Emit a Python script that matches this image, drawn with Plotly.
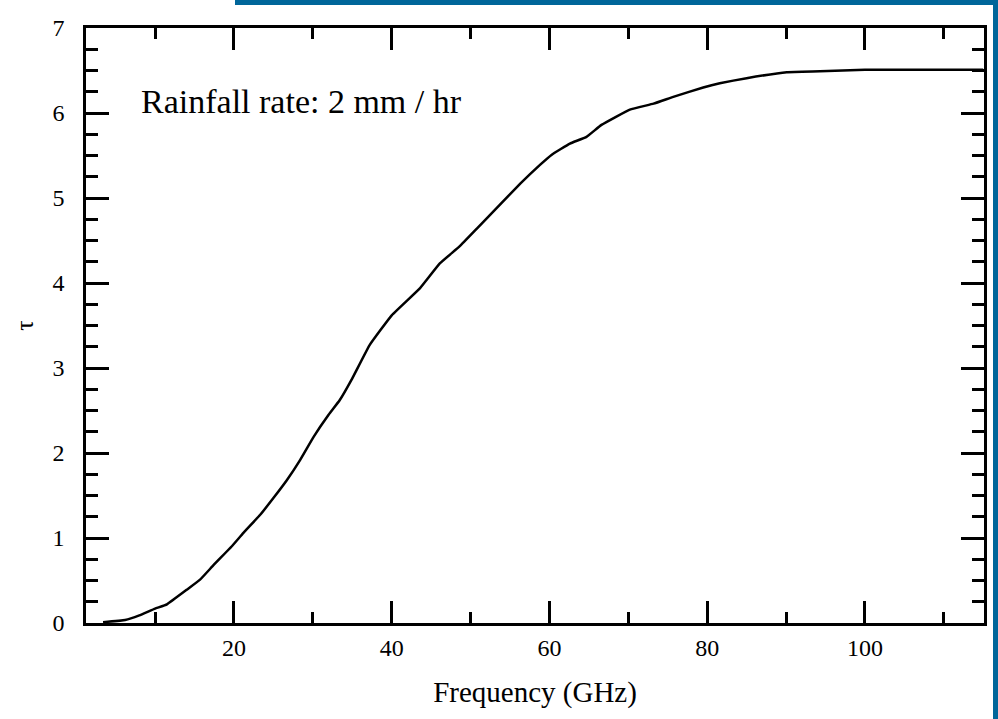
import plotly.graph_objects as go

freq_ghz = [3.4, 6.2, 8, 10, 11.5, 14, 15.7, 17.4, 19.7, 21.2, 23.3, 25.0, 26.7, 28.4, 30.1,
            32.0, 33.4, 34.9, 37.2, 40, 43.6, 46.1, 48.6, 50.8, 53.3, 56.3, 58.8, 60.3, 62.6,
            64.7, 66.6, 70.2, 73.2, 75.7, 79.5, 81.6, 85.0, 90.1, 94.3, 100, 115]
tau = [0.01, 0.035, 0.09, 0.17, 0.22, 0.39, 0.51, 0.68, 0.90, 1.06, 1.27, 1.47, 1.68, 1.92, 2.19,
       2.45, 2.62, 2.86, 3.27, 3.62, 3.94, 4.23, 4.43, 4.64, 4.88, 5.17, 5.39, 5.51, 5.64,
       5.72, 5.86, 6.04, 6.11, 6.19, 6.30, 6.35, 6.41, 6.48, 6.49, 6.51, 6.51]

x_ticks = [20, 40, 60, 80, 100]
y_ticks = [0, 1, 2, 3, 4, 5, 6, 7]
annotation_text = "Rainfall rate: 2 mm / hr"

FONT = "Liberation Serif, Times New Roman, serif"
BLUE = "#00669a"

fig = go.Figure()
fig.add_trace(go.Scatter(x=freq_ghz, y=tau, mode="lines",
                         line=dict(color="black", width=2.5, shape="spline", smoothing=0.3),
                         showlegend=False))

W, H = 998, 719
L, R, T, B = 86, 14, 28, 96
pw, ph = W - L - R, H - T - B


def px(x):
    return (x - L) / pw


def py(y):
    return (H - B - y) / ph


fig.update_layout(
    width=W, height=H,
    margin=dict(l=L, r=R, t=T, b=B),
    paper_bgcolor="white", plot_bgcolor="white",
    font=dict(family=FONT, color="black", size=24),
    xaxis=dict(
        range=[1.24, 115.1], tickvals=x_ticks, ticks="inside", ticklen=22, tickwidth=2.5,
        tickcolor="black", showline=True, linecolor="black", linewidth=2.5, mirror="allticks",
        showgrid=False, zeroline=False, ticklabelstandoff=1,
        tickfont=dict(family=FONT, size=24),
        minor=dict(dtick=10, tick0=0, ticks="inside", ticklen=11, tickwidth=2.5, tickcolor="black", showgrid=False),
        title=dict(text="Frequency (GHz)", font=dict(family=FONT, size=29), standoff=23),
    ),
    yaxis=dict(
        range=[0, 7], tickvals=y_ticks, ticks="inside", ticklen=23, tickwidth=2.5,
        tickcolor="black", showline=True, linecolor="black", linewidth=2.5, mirror="allticks",
        showgrid=False, zeroline=False, ticklabelstandoff=14,
        tickfont=dict(family=FONT, size=24),
        minor=dict(dtick=0.25, tick0=0, ticks="inside", ticklen=12, tickwidth=2.5, tickcolor="black", showgrid=False),
        title=dict(text="τ", font=dict(family=FONT, size=26), standoff=12),
    ),
    annotations=[dict(text=annotation_text, xref="paper", yref="paper",
                      x=px(139), y=py(101), xanchor="left", yanchor="middle",
                      showarrow=False, font=dict(family=FONT, size=34, color="black"))],
    shapes=[
        dict(type="rect", xref="paper", yref="paper", x0=px(235), x1=px(998), y0=py(0), y1=py(5),
             fillcolor=BLUE, line=dict(width=0), layer="above"),
        dict(type="rect", xref="paper", yref="paper", x0=px(993), x1=px(998), y0=py(0), y1=py(719),
             fillcolor=BLUE, line=dict(width=0), layer="above"),
    ],
)

fig.write_html("out.html")
